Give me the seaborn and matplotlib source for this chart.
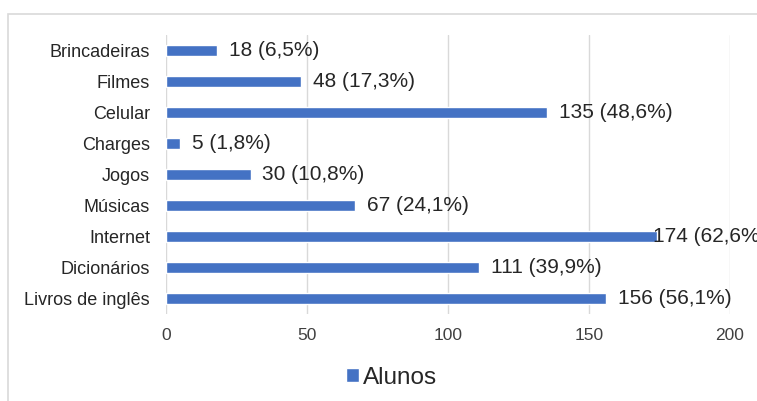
import matplotlib
matplotlib.use("Agg")
import matplotlib.pyplot as plt
import seaborn as sns
import pandas as pd
from matplotlib.patches import Rectangle

categorias = ["Brincadeiras", "Filmes", "Celular", "Charges", "Jogos",
              "Músicas", "Internet", "Dicionários", "Livros de inglês"]
alunos = [18, 48, 135, 5, 30, 67, 174, 111, 156]
percentuais = ["6,5%", "17,3%", "48,6%", "1,8%", "10,8%",
               "24,1%", "62,6%", "39,9%", "56,1%"]
ticks_x = [0, 50, 100, 150, 200]

df = pd.DataFrame({"categoria": categorias, "Alunos": alunos})

sns.set_theme(style="white")
plt.rcParams["font.family"] = ["Liberation Sans", "DejaVu Sans"]

W, H = 757, 401
fig = plt.figure(figsize=(W / 100, H / 100), dpi=100)
fig.patch.set_facecolor("white")

# light frame around the chart area
fig.patches.append(Rectangle((8 / W, -0.1), 1.2, 1.1 - 14 / H,
                             transform=fig.transFigure, fill=False,
                             edgecolor="#d9d9d9", linewidth=1.2))

left, right, top, bottom = 166, 730, 35, 314
ax = fig.add_axes([left / W, 1 - bottom / H, (right - left) / W, (bottom - top) / H])

cor = "#4472C4"
sns.barplot(data=df, y="categoria", x="Alunos", orient="h", color=cor,
            width=0.38, saturation=1, ax=ax, label="Alunos")

ax.set_xlim(0, 200)
ax.set_xticks(ticks_x)
ax.set_xticklabels([str(t) for t in ticks_x], fontsize=12.5, color="#404040")
ax.tick_params(axis="x", length=0, pad=10)
ax.tick_params(axis="y", length=0, pad=11.5, labelsize=13, labelcolor="#262626")
ax.set_xlabel("")
ax.set_ylabel("")
ax.grid(axis="x", color="#d9d9d9", linewidth=1)
ax.set_axisbelow(True)
for s in ax.spines.values():
    s.set_visible(False)

for i, (v, p) in enumerate(zip(alunos, percentuais)):
    # the longest bar keeps its label tucked against the bar end
    dx = -3 if v == max(alunos) else 8.5
    ax.annotate(f"{v} ({p})", xy=(v, i), xytext=(dx, 0), textcoords="offset points",
                va="center", ha="left", fontsize=15, color="#262626",
                annotation_clip=False)

leg = ax.legend(loc="center",
                bbox_to_anchor=((392 - left) / (right - left), -(378 - bottom) / (bottom - top)),
                frameon=False, fontsize=17.5, handlelength=0.5, handleheight=0.5,
                handletextpad=0.2, labelcolor="#262626")

fig.savefig("out.png", dpi=100)
